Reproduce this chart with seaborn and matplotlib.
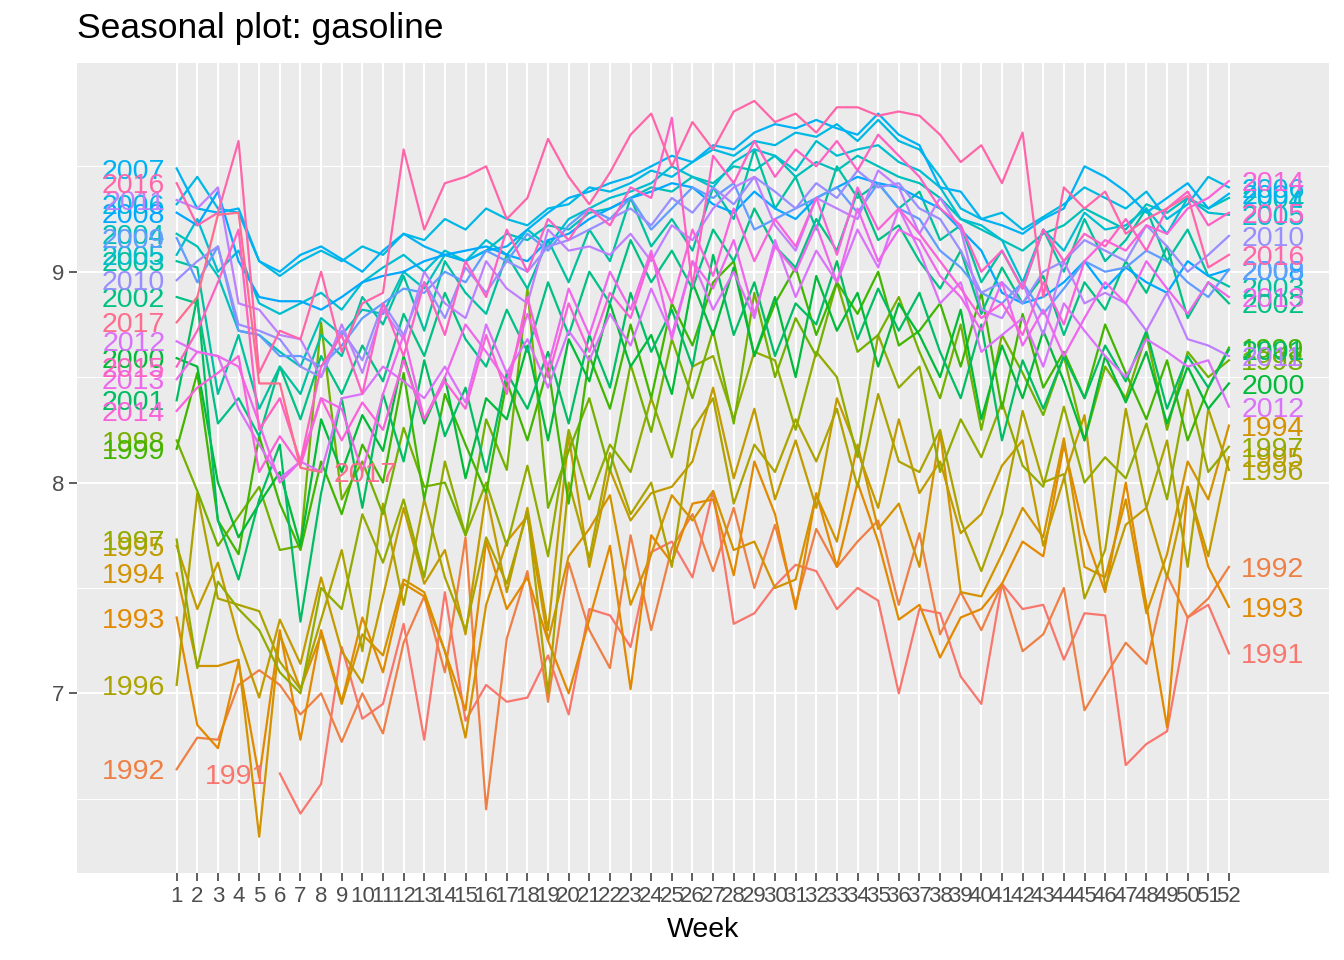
import numpy as np
import pandas as pd
import matplotlib
matplotlib.use("Agg")
import matplotlib.pyplot as plt
import seaborn as sns

plt.rcParams["font.family"] = ["Liberation Sans", "DejaVu Sans"]

# weekly gasoline supply (million barrels/day), one list per year
weeks_1991 = list(range(6, 53))
weeks_full = list(range(1, 53))
weeks_2017 = list(range(1, 9))

y1991 = [6.62, 6.43, 6.57,
         7.22, 6.88, 6.95, 7.33, 6.78, 7.48, 6.87, 7.04, 6.96, 6.98, 7.18, 6.90,
         7.40, 7.37, 7.22, 7.67, 7.72, 7.55, 7.96, 7.33, 7.38, 7.51, 7.61, 7.58, 7.40, 7.50, 7.44, 7.00,
         7.40, 7.38, 7.08, 6.95, 7.52, 7.40, 7.42, 7.16, 7.38, 7.37,
         6.66, 6.76, 6.82, 7.36, 7.42, 7.19]
y1992 = [6.64, 6.79, 6.78, 7.04, 7.11, 7.04, 6.90, 7.00,
         6.77, 7.00, 6.81, 7.24, 7.46, 7.10, 7.74, 6.45, 7.26, 7.58, 6.96, 7.62,
         7.30, 7.12, 7.75, 7.30, 7.69, 7.85, 7.58, 7.88, 7.50, 7.80, 7.42, 7.78, 7.60, 7.72, 7.82, 7.42,
         7.76, 7.28, 7.48, 7.30, 7.52, 7.20, 7.28, 7.50, 6.92, 7.08,
         7.24, 7.14, 7.56, 7.36, 7.45, 7.60]
y1993 = [7.36, 6.85, 6.74, 7.15, 6.60, 7.30, 6.78, 7.30,
         6.96, 7.36, 7.10, 7.52, 7.46, 7.20, 6.92, 7.72, 7.40, 7.55, 7.25, 7.00,
         7.35, 7.70, 7.02, 7.75, 7.62, 7.90, 7.92, 7.56, 8.10, 7.85, 7.40, 7.95, 7.60, 8.00, 7.72, 7.35,
         7.42, 7.17, 7.36, 7.40, 7.52, 7.72, 7.65, 8.18, 7.76, 7.48,
         8.00, 7.42, 6.84, 7.98, 7.60, 7.41]
y1994 = [7.57, 7.13, 7.13, 7.16, 6.32, 7.28, 7.02, 7.28,
         6.95, 7.28, 7.18, 7.54, 7.48, 7.20, 6.79, 7.42, 7.72, 7.84, 7.25, 7.65,
         7.78, 7.94, 7.42, 7.66, 7.94, 7.82, 7.96, 7.68, 7.72, 7.50, 7.54, 7.94, 7.72, 8.18, 7.78, 7.90,
         7.60, 8.24, 7.48, 7.46, 7.66, 7.88, 7.74, 8.21, 7.60, 7.55,
         7.92, 7.38, 7.66, 8.10, 7.92, 8.27]
y1995 = [7.70, 7.40, 7.62, 7.26, 6.98, 7.35, 7.14, 7.55,
         7.20, 7.05, 7.46, 7.88, 7.52, 7.68, 7.28, 7.95, 7.48, 7.88, 7.30, 8.22,
         7.60, 8.06, 7.82, 7.95, 7.98, 8.10, 8.45, 8.02, 8.35, 7.92, 8.20, 7.88, 8.40, 8.15, 7.88, 8.30,
         7.95, 8.10, 7.76, 7.85, 8.08, 8.20, 7.70, 8.02, 8.32, 7.50,
         7.80, 7.88, 7.55, 7.98, 7.65, 8.12]
y1996 = [7.04, 7.95, 7.45, 7.42, 7.39, 7.15, 7.02, 7.35,
         7.68, 7.20, 7.90, 7.42, 7.92, 7.55, 7.30, 7.74, 7.52, 7.86, 7.00, 8.00,
         7.64, 8.14, 7.85, 8.00, 7.60, 8.25, 8.40, 7.90, 8.18, 8.05, 8.30, 8.10, 8.35, 7.98, 8.42, 8.10,
         8.05, 8.25, 7.82, 7.58, 7.85, 8.34, 8.00, 8.04, 7.45, 7.68,
         8.35, 7.88, 8.20, 7.60, 8.35, 8.06]
y1997 = [7.73, 7.12, 7.53, 7.40, 7.30, 7.10, 7.00, 7.50,
         7.40, 7.85, 7.62, 7.92, 7.55, 8.10, 7.75, 8.00, 7.70, 8.08, 7.65, 8.25,
         7.92, 8.18, 8.05, 8.40, 8.12, 8.55, 8.60, 8.30, 8.62, 8.58, 8.25, 8.62, 8.50, 8.12, 8.70, 8.45,
         8.55, 8.05, 8.30, 8.12, 8.38, 8.08, 7.98, 8.36, 8.00, 8.12,
         8.02, 8.28, 7.92, 8.44, 8.05, 8.17]
y1998 = [8.20, 7.96, 7.70, 7.84, 7.98, 7.68, 7.70, 8.76,
         7.92, 8.10, 7.85, 8.26, 7.98, 8.00, 7.75, 8.30, 8.06, 8.92, 7.88, 8.15,
         8.40, 8.05, 8.56, 8.24, 8.68, 8.40, 8.72, 8.28, 8.90, 8.50, 8.78, 8.60, 8.95, 8.62, 8.70, 8.88,
         8.62, 8.40, 8.75, 8.25, 8.70, 8.52, 8.32, 8.60, 8.20, 8.55,
         8.40, 8.70, 8.25, 8.62, 8.50, 8.58]
y1999 = [8.16, 8.52, 7.82, 7.66, 8.22, 7.90, 7.68, 8.10,
         7.85, 8.18, 8.00, 8.52, 7.92, 8.42, 8.18, 7.95, 8.48, 8.20, 8.55, 7.90,
         8.60, 8.35, 8.75, 8.40, 8.85, 8.65, 8.95, 9.05, 8.60, 8.85, 9.02, 8.70, 8.95, 8.80, 9.00, 8.65,
         8.72, 8.85, 8.55, 8.90, 8.35, 8.80, 8.45, 8.62, 8.40, 8.75,
         8.52, 8.30, 8.58, 8.20, 8.45, 8.64]
y2000 = [8.59, 8.55, 8.00, 7.74, 7.90, 8.05, 7.70, 8.30,
         8.05, 8.32, 8.15, 8.60, 8.28, 8.50, 8.02, 8.40, 8.30, 8.65, 8.20, 8.68,
         8.48, 8.85, 8.55, 8.70, 8.42, 8.95, 8.70, 9.02, 8.60, 8.88, 8.50, 8.98, 8.72, 8.90, 8.55, 8.85,
         8.70, 8.50, 8.82, 8.30, 8.65, 8.40, 8.72, 8.48, 8.20, 8.60,
         8.38, 8.62, 8.28, 8.55, 8.35, 8.47]
y2001 = [8.39, 8.88, 7.82, 7.54, 7.92, 8.18, 7.34, 7.95,
         8.40, 7.88, 8.42, 8.10, 8.58, 8.22, 8.45, 8.05, 8.52, 8.35, 8.62, 8.28,
         8.70, 8.45, 8.90, 8.62, 8.82, 8.55, 9.08, 8.70, 8.95, 8.60, 8.85, 8.75, 9.05, 8.68, 8.92, 8.72,
         8.90, 8.62, 8.40, 8.75, 8.20, 8.58, 8.35, 8.60, 8.40, 8.65,
         8.48, 8.72, 8.35, 8.60, 8.45, 8.63]
y2002 = [8.88, 8.85, 8.28, 8.40, 8.22, 8.55, 8.30, 8.60,
         8.42, 8.65, 8.48, 8.80, 8.60, 8.90, 8.68, 8.55, 8.82, 8.62, 8.95, 8.70,
         9.00, 8.85, 9.15, 8.95, 9.10, 8.92, 9.20, 9.05, 9.30, 9.12, 9.02, 9.25, 9.10, 9.38, 9.15, 9.22,
         9.05, 8.92, 9.10, 8.80, 9.02, 8.85, 8.98, 8.70, 8.95, 8.82,
         9.05, 8.90, 9.12, 8.78, 8.95, 8.85]
y2003 = [9.05, 9.02, 8.42, 8.70, 8.35, 8.55, 8.42, 8.70,
         8.60, 8.88, 8.75, 8.98, 8.72, 9.05, 8.90, 8.80, 9.08, 8.92, 9.15, 8.95,
         9.20, 9.05, 9.35, 9.12, 9.25, 9.10, 9.40, 9.25, 9.58, 9.30, 9.45, 9.20, 9.50, 9.35, 9.42, 9.30,
         9.38, 9.15, 9.22, 8.95, 9.10, 8.92, 9.20, 9.00, 9.25, 9.05,
         9.15, 9.30, 9.05, 9.20, 8.98, 8.93]
y2004 = [9.18, 9.12, 8.98, 8.72, 8.70, 8.62, 8.55, 8.78,
         8.70, 8.82, 8.80, 9.00, 8.92, 9.08, 9.05, 9.10, 9.18, 9.15, 9.22, 9.20,
         9.28, 9.30, 9.35, 9.40, 9.38, 9.45, 9.42, 9.50, 9.48, 9.55, 9.45, 9.52, 9.48, 9.55, 9.50, 9.45,
         9.42, 9.35, 9.25, 9.20, 9.15, 9.10, 9.18, 9.22, 9.30, 9.25,
         9.20, 9.32, 9.28, 9.35, 9.30, 9.35]
y2005 = [9.08, 9.25, 9.00, 9.10, 8.85, 8.80, 8.85, 8.90,
         8.82, 8.95, 9.02, 9.08, 9.00, 9.10, 9.05, 9.15, 9.08, 9.20, 9.12, 9.25,
         9.30, 9.35, 9.38, 9.42, 9.50, 9.45, 9.40, 9.52, 9.58, 9.55, 9.48, 9.62, 9.55, 9.58, 9.60, 9.52,
         9.48, 9.40, 9.25, 9.22, 9.15, 8.95, 9.20, 9.10, 9.28, 9.20,
         9.22, 9.30, 9.18, 9.35, 9.28, 9.27]
y2006 = [9.32, 9.45, 9.30, 9.28, 9.05, 8.98, 9.05, 9.10,
         9.05, 9.12, 9.08, 9.18, 9.15, 9.25, 9.20, 9.30, 9.25, 9.22, 9.30, 9.32,
         9.40, 9.38, 9.42, 9.48, 9.45, 9.52, 9.58, 9.55, 9.62, 9.60, 9.66, 9.64, 9.70, 9.62, 9.72, 9.62,
         9.58, 9.45, 9.30, 9.25, 9.28, 9.20, 9.26, 9.32, 9.40, 9.35,
         9.30, 9.38, 9.25, 9.32, 9.45, 9.40]
y2007 = [9.49, 9.30, 9.28, 9.30, 9.05, 9.00, 9.08, 9.12,
         9.06, 9.00, 9.10, 9.18, 9.12, 9.08, 9.05, 9.10, 9.12, 9.20, 9.28, 9.35,
         9.38, 9.42, 9.45, 9.50, 9.55, 9.52, 9.60, 9.58, 9.66, 9.70, 9.68, 9.72, 9.68, 9.65, 9.75, 9.65,
         9.60, 9.40, 9.38, 9.25, 9.22, 9.18, 9.25, 9.30, 9.50, 9.45,
         9.38, 9.28, 9.35, 9.42, 9.30, 9.37]
y2008 = [9.28, 9.22, 9.38, 9.05, 8.88, 8.86, 8.86, 8.82,
         8.88, 8.95, 8.98, 9.00, 9.05, 9.08, 9.10, 9.12, 9.08, 9.05, 9.15, 9.18,
         9.25, 9.30, 9.35, 9.38, 9.42, 9.40, 9.32, 9.28, 9.38, 9.30, 9.25, 9.35, 9.40, 9.45, 9.42, 9.40,
         9.35, 9.30, 9.20, 9.10, 8.90, 8.85, 8.88, 8.95, 9.05, 8.92,
         9.02, 8.95, 8.90, 9.05, 8.98, 9.01]
y2009 = [9.16, 8.95, 9.12, 8.72, 8.70, 8.60, 8.60, 8.55,
         8.65, 8.78, 8.85, 8.92, 8.90, 9.00, 8.95, 9.10, 9.05, 9.18, 9.10, 9.22,
         9.30, 9.25, 9.35, 9.20, 9.30, 9.40, 9.35, 9.42, 9.20, 9.25, 9.30, 9.35, 9.40, 9.28, 9.42, 9.30,
         9.25, 9.10, 9.02, 8.90, 8.85, 8.95, 8.80, 8.92, 9.05, 9.00,
         9.02, 9.10, 9.05, 8.95, 8.88, 9.01]
y2010 = [8.96, 9.05, 9.12, 8.75, 8.72, 8.68, 8.55, 8.50,
         8.72, 8.58, 8.85, 8.70, 8.95, 8.78, 9.02, 8.90, 9.05, 9.00, 9.12, 9.15,
         9.20, 9.25, 9.30, 9.22, 9.35, 9.28, 9.40, 9.32, 9.45, 9.38, 9.30, 9.42, 9.35, 9.48, 9.40, 9.42,
         9.30, 9.25, 9.10, 8.90, 8.95, 8.85, 9.00, 9.05, 9.15, 9.10,
         9.05, 9.22, 9.12, 9.00, 9.08, 9.17]
y2011 = [9.34, 9.30, 9.40, 8.85, 8.82, 8.70, 8.68, 8.50,
         8.75, 8.52, 8.82, 8.68, 9.00, 8.85, 8.78, 9.05, 8.92, 8.85, 9.20, 9.10,
         9.12, 9.08, 9.18, 9.05, 9.22, 9.15, 9.30, 9.40, 9.45, 9.22, 9.10, 9.35, 9.30, 9.25, 9.48, 9.40,
         9.18, 9.35, 9.20, 8.82, 8.78, 8.95, 8.70, 9.05, 8.85, 8.90,
         8.85, 8.72, 8.90, 8.68, 8.65, 8.60]
y2012 = [8.67, 8.62, 8.60, 8.35, 8.18, 8.02, 8.10, 8.05,
         8.40, 8.42, 8.55, 8.48, 8.40, 8.55, 8.38, 8.75, 8.52, 8.68, 8.45, 8.72,
         8.58, 8.80, 8.65, 8.92, 8.70, 9.05, 8.82, 9.00, 8.78, 9.15, 8.88, 9.10, 8.95, 9.20, 9.02, 9.30,
         9.10, 8.85, 8.95, 8.62, 8.70, 8.78, 8.55, 8.85, 8.72, 8.60,
         8.50, 8.68, 8.62, 8.55, 8.58, 8.36]
y2013 = [8.49, 8.62, 8.60, 8.55, 8.28, 8.00, 8.10, 8.40,
         8.35, 8.05, 8.42, 8.70, 8.30, 8.50, 8.75, 8.62, 8.48, 8.80, 8.55, 8.92,
         8.70, 9.00, 8.82, 9.10, 8.68, 9.05, 8.92, 9.15, 8.80, 9.12, 9.00, 9.22, 8.95, 9.30, 9.05, 9.20,
         9.15, 8.98, 8.88, 8.72, 8.95, 8.65, 8.82, 8.60, 8.78, 8.95,
         8.85, 9.05, 8.92, 8.80, 8.95, 8.88]
y2014 = [8.34, 8.45, 8.52, 8.60, 8.05, 8.22, 8.08, 8.40,
         8.20, 8.38, 8.25, 8.58, 8.30, 8.48, 8.35, 8.70, 8.42, 8.88, 8.50, 8.85,
         8.62, 8.90, 8.78, 9.08, 8.85, 9.20, 8.98, 9.30, 9.05, 9.25, 9.12, 9.35, 9.08, 9.40, 9.20, 9.30,
         9.18, 9.05, 8.92, 8.78, 8.85, 8.70, 8.95, 8.75, 9.05, 9.15,
         9.10, 9.22, 9.18, 9.30, 9.35, 9.43]
y2015 = [8.55, 8.72, 8.95, 9.20, 8.25, 8.40, 8.10, 8.55,
         8.70, 8.42, 8.85, 8.60, 8.95, 8.70, 9.05, 8.88, 9.20, 9.00, 9.25, 9.15,
         9.30, 9.22, 9.40, 9.35, 9.73, 8.93, 9.55, 9.42, 9.62, 9.45, 9.58, 9.50, 9.62, 9.48, 9.65, 9.55,
         9.45, 9.30, 9.22, 9.00, 9.10, 8.92, 9.20, 9.05, 9.18, 9.12,
         9.25, 9.10, 9.30, 9.38, 9.22, 9.28]
y2016 = [9.42, 9.22, 9.28, 9.62, 8.52, 8.72, 8.68, 9.00,
         8.62, 8.85, 8.90, 9.58, 9.20, 9.42, 9.45, 9.50, 9.25, 9.35, 9.63, 9.45,
         9.32, 9.47, 9.65, 9.75, 9.50, 9.71, 9.58, 9.76, 9.81, 9.71, 9.75, 9.66, 9.78, 9.78, 9.74, 9.76,
         9.74, 9.65, 9.52, 9.60, 9.42, 9.66, 8.88, 9.40, 9.30, 9.38,
         9.18, 9.25, 9.30, 9.36, 9.02, 9.08]
y2017 = [8.76, 8.88, 9.27, 9.28, 8.47, 8.47, 8.07, 8.05]

years = list(range(1991, 2018))
values = [y1991, y1992, y1993, y1994, y1995, y1996, y1997, y1998, y1999,
          y2000, y2001, y2002, y2003, y2004, y2005, y2006, y2007, y2008,
          y2009, y2010, y2011, y2012, y2013, y2014, y2015, y2016, y2017]
week_sets = [weeks_1991] + [weeks_full] * 25 + [weeks_2017]


def hcl_hex(h, c=100.0, l=65.0):
    # polar Luv -> sRGB, same as R's hcl() used by ggplot's hue palette
    xn, yn, zn = 95.047, 100.0, 108.883
    hr = np.deg2rad(h)
    U, V = c * np.cos(hr), c * np.sin(hr)
    Y = yn * ((l + 16) / 116) ** 3
    t = xn + yn + zn
    x, y = xn / t, yn / t
    un = 2 * x / (6 * y - x + 1.5)
    vn = 4.5 * y / (6 * y - x + 1.5)
    u = U / (13 * l) + un
    v = V / (13 * l) + vn
    X = 9.0 * Y * u / (4 * v)
    Z = -X / 3 - 5 * Y + 3 * Y / v
    X, Y, Z = X / 100, Y / 100, Z / 100
    rgb = [3.240479 * X - 1.537150 * Y - 0.498535 * Z,
           -0.969256 * X + 1.875992 * Y + 0.041556 * Z,
           0.055648 * X - 0.204043 * Y + 1.057311 * Z]
    out = []
    for ch in rgb:
        ch = 12.92 * ch if ch <= 0.0031308 else 1.055 * ch ** (1 / 2.4) - 0.055
        out.append(min(max(ch, 0), 1))
    return matplotlib.colors.to_hex(out)


hues = 15 + np.arange(len(years)) * 360 / len(years)
year_names = [str(yr) for yr in years]
palette = {name: hcl_hex(h) for name, h in zip(year_names, hues)}

frames = []
for name, wk, vals in zip(year_names, week_sets, values):
    assert len(wk) == len(vals), name
    frames.append(pd.DataFrame({"year": name, "week": wk, "value": vals}))
df = pd.concat(frames, ignore_index=True)

fig = plt.figure(figsize=(13.44, 9.6), dpi=100)
ax = fig.add_axes([77 / 1344, 87 / 960, 1252 / 1344, 810 / 960])
ax.set_facecolor("#EBEBEB")

sns.lineplot(data=df, x="week", y="value", hue="year", hue_order=year_names,
             palette=palette, estimator=None, legend=False, lw=1.6, ax=ax)

# year labels at both ends of each line
for name in year_names:
    sub = df[df["year"] == name]
    first, last = sub.iloc[0], sub.iloc[-1]
    col = palette[name]
    ax.annotate(name, (first["week"] - 0.55, first["value"]), xytext=(0, -7.3),
                textcoords="offset points", ha="right", va="baseline",
                color=col, fontsize=20.5)
    ax.annotate(name, (last["week"] + 0.6, last["value"]), xytext=(0, -7.3),
                textcoords="offset points", ha="left", va="baseline",
                color=col, fontsize=20.5)

ax.set_xlim(-3.83, 56.85)
ax.set_ylim(6.148, 9.99)
ax.set_xticks(weeks_full)
ax.set_yticks([7, 8, 9])
ax.set_yticks([6.5, 7.5, 8.5, 9.5], minor=True)
ax.set_axisbelow(True)
ax.grid(which="major", color="white", lw=1.5)
ax.grid(which="minor", axis="y", color="white", lw=0.75)
for s in ax.spines.values():
    s.set_visible(False)
ax.tick_params(which="major", length=5.8, width=1.1, color="#333333",
               labelcolor="#4D4D4D", labelsize=16, pad=3.5)
ax.tick_params(which="minor", length=0)
ax.set_xlabel("Week", fontsize=20.5, labelpad=7.5)
ax.set_ylabel("")

fig.text(77 / 1344, 1 - 38 / 960, "Seasonal plot: gasoline", fontsize=25.5,
         ha="left", va="baseline")

fig.savefig("out.png", dpi=100)
